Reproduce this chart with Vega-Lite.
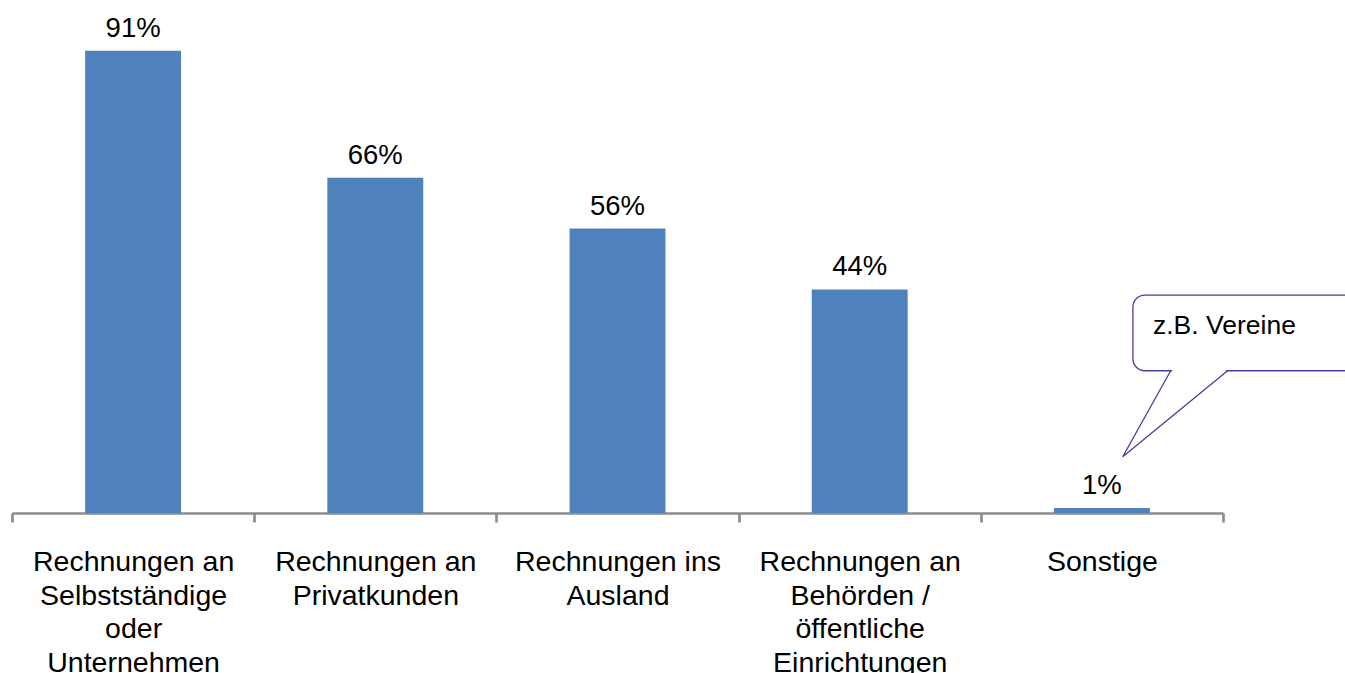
{
  "$schema": "https://vega.github.io/schema/vega-lite/v6.json",
  "autosize": {"type": "none"},
  "padding": {"left": 12, "top": 5, "right": 122, "bottom": 160},
  "width": 1211,
  "height": 508,
  "background": "white",
  "config": {"view": {"stroke": null}, "font": "Liberation Sans"},
  "datasets": {
    "bars": [
      {"kategorie": "Rechnungen an\nSelbstständige\noder\nUnternehmen", "anteil": 0.91},
      {"kategorie": "Rechnungen an\nPrivatkunden", "anteil": 0.66},
      {"kategorie": "Rechnungen ins\nAusland", "anteil": 0.56},
      {"kategorie": "Rechnungen an\nBehörden /\nöffentliche\nEinrichtungen", "anteil": 0.44},
      {"kategorie": "Sonstige", "anteil": 0.01}
    ],
    "box": [
      {"x1": 4.628, "x2": 5.6, "y1": 0.280, "y2": 0.429}
    ],
    "gap": [
      {"x1": 4.79, "x2": 5.013, "y": 0.280}
    ],
    "pointer": [
      {"o": 1, "x": 4.784, "y": 0.280},
      {"o": 2, "x": 4.586, "y": 0.1108},
      {"o": 3, "x": 5.019, "y": 0.280}
    ],
    "note": [
      {"x": 4.711, "y": 0.352, "text": "z.B. Vereine"}
    ]
  },
  "resolve": {"scale": {"x": "independent"}},
  "layer": [
    {
      "data": {"name": "bars"},
      "mark": {"type": "bar", "color": "#4F81BD", "width": {"band": 0.396}},
      "encoding": {
        "x": {
          "field": "kategorie", "type": "nominal", "sort": null,
          "scale": {"paddingInner": 0, "paddingOuter": 0},
          "axis": {
            "title": null, "labelAngle": 0, "tickBand": "extent",
            "domainColor": "#8C8C8C", "domainWidth": 2.7,
            "tickColor": "#8C8C8C", "tickWidth": 2.7, "tickSize": 9,
            "labelFont": "Liberation Sans", "labelFontSize": 28.5, "labelColor": "#000000",
            "labelLineHeight": 33.5, "labelPadding": 25.5, "labelLimit": 0,
            "labelBaseline": "top",
            "labelExpr": "split(datum.label, '\\n')"
          }
        },
        "y": {
          "field": "anteil", "type": "quantitative",
          "scale": {"domain": [0, 1]},
          "axis": null
        }
      }
    },
    {
      "data": {"name": "bars"},
      "mark": {"type": "text", "baseline": "alphabetic", "dy": -14, "fontSize": 27.5, "font": "Liberation Sans", "color": "#000000"},
      "encoding": {
        "x": {"field": "kategorie", "type": "nominal", "sort": null, "scale": {"paddingInner": 0, "paddingOuter": 0}, "axis": null},
        "y": {"field": "anteil", "type": "quantitative", "scale": {"domain": [0, 1]}},
        "text": {"field": "anteil", "type": "quantitative", "format": ".0%"}
      }
    },
    {
      "data": {"name": "box"},
      "mark": {"type": "rect", "fill": "white", "stroke": "#4040A0", "strokeWidth": 1.3, "cornerRadius": 12, "clip": false},
      "encoding": {
        "x": {"field": "x1", "type": "quantitative", "scale": {"domain": [0, 5], "nice": false, "zero": false}, "axis": null},
        "x2": {"field": "x2"},
        "y": {"field": "y1", "type": "quantitative"},
        "y2": {"field": "y2"}
      }
    },
    {
      "data": {"name": "gap"},
      "mark": {"type": "rule", "stroke": "white", "strokeWidth": 3},
      "encoding": {
        "x": {"field": "x1", "type": "quantitative", "scale": {"domain": [0, 5], "nice": false, "zero": false}, "axis": null},
        "x2": {"field": "x2"},
        "y": {"field": "y", "type": "quantitative"}
      }
    },
    {
      "data": {"name": "pointer"},
      "mark": {"type": "line", "stroke": "#4040A0", "strokeWidth": 1.3},
      "encoding": {
        "x": {"field": "x", "type": "quantitative", "scale": {"domain": [0, 5], "nice": false, "zero": false}, "axis": null},
        "y": {"field": "y", "type": "quantitative"},
        "order": {"field": "o"}
      }
    },
    {
      "data": {"name": "note"},
      "mark": {"type": "text", "align": "left", "baseline": "alphabetic", "fontSize": 26.5, "font": "Liberation Sans", "color": "#000000"},
      "encoding": {
        "x": {"field": "x", "type": "quantitative", "scale": {"domain": [0, 5], "nice": false, "zero": false}, "axis": null},
        "y": {"field": "y", "type": "quantitative"},
        "text": {"field": "text"}
      }
    }
  ]
}
